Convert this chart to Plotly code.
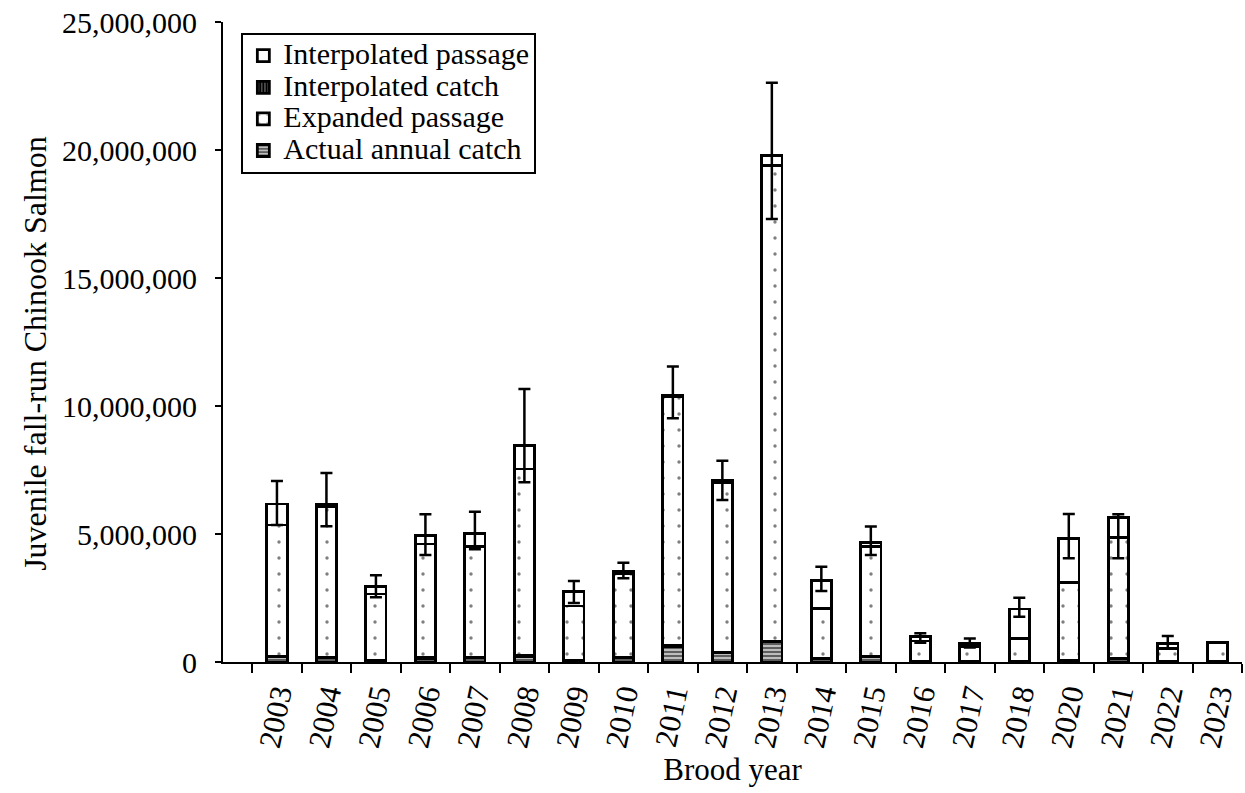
import plotly.graph_objects as go

years = ["2003", "2004", "2005", "2006", "2007", "2008", "2009", "2010", "2011", "2012",
         "2013", "2014", "2015", "2016", "2017", "2018", "2020", "2021", "2022", "2023"]

# segment values (millions of fish)
actual_catch = [0.20, 0.17, 0.03, 0.15, 0.17, 0.22, 0.03, 0.17, 0.62, 0.36,
                0.80, 0.12, 0.20, 0.02, 0.02, 0.02, 0.05, 0.12, 0.01, 0.01]
interp_catch = [0.03, 0.02, 0.05, 0.02, 0.02, 0.05, 0.02, 0.02, 0.02, 0.03,
                0.02, 0.03, 0.03, 0.01, 0.01, 0.01, 0.03, 0.02, 0.01, 0.00]
expanded_passage = [5.12, 5.89, 2.58, 4.44, 4.31, 7.27, 2.14, 3.26, 9.72, 6.61,
                    18.56, 1.95, 4.27, 0.79, 0.59, 0.89, 3.02, 4.71, 0.50, 0.76]
interp_passage = [0.82, 0.09, 0.28, 0.32, 0.53, 0.91, 0.56, 0.08, 0.07, 0.11,
                  0.42, 1.08, 0.16, 0.17, 0.11, 1.15, 1.73, 0.79, 0.21, 0.00]
err_plus = [0.90, 1.21, 0.45, 0.84, 0.84, 2.21, 0.41, 0.35, 1.11, 0.75,
            2.83, 0.54, 0.63, 0.13, 0.19, 0.44, 0.95, 0.13, 0.29, None]
err_minus = [0.82, 0.87, 0.41, 0.75, 0.63, 1.43, 0.45, 0.26, 0.91, 0.78,
             2.50, 0.41, 0.48, 0.24, 0.16, 0.30, 0.78, 1.59, 0.20, None]

M = 1e6
def scale(v):
    return [x * M for x in v]

FONT = "Times New Roman, Liberation Serif, serif"
LINE = dict(color="black", width=2.8)

def lab(t):
    return '<span style="font-size:30px">' + t + '</span>'

fig = go.Figure()
fig.add_trace(go.Bar(
    x=years, y=scale(actual_catch), name=lab("Actual annual catch"), legendrank=4,
    marker=dict(color="white", line=LINE,
                pattern=dict(shape="-", fgcolor="black", bgcolor="#bdbdbd", size=4, solidity=0.5))))
fig.add_trace(go.Bar(
    x=years, y=scale(interp_catch), name=lab("Interpolated catch"), legendrank=2,
    marker=dict(color="black", line=LINE,
                pattern=dict(shape="|", fgcolor="white", bgcolor="black", size=4, solidity=0.3))))
fig.add_trace(go.Bar(
    x=years, y=scale(expanded_passage), name=lab("Expanded passage"), legendrank=3,
    marker=dict(color="white", line=LINE,
                pattern=dict(shape=".", fgcolor="black", bgcolor="white", size=16, solidity=0.035))))
fig.add_trace(go.Bar(
    x=years, y=scale(interp_passage), name=lab("Interpolated passage"), legendrank=1,
    marker=dict(color="white", line=LINE)))

# error bars on totals
ex, ey, ep, em = [], [], [], []
for i, yr in enumerate(years):
    if err_plus[i] is None:
        continue
    tot = actual_catch[i] + interp_catch[i] + expanded_passage[i] + interp_passage[i]
    ex.append(yr)
    ey.append(tot * M)
    ep.append(err_plus[i] * M)
    em.append(err_minus[i] * M)

fig.add_trace(go.Scatter(
    x=ex, y=ey, mode="markers", showlegend=False, hoverinfo="skip",
    marker=dict(size=1, color="rgba(0,0,0,0)"),
    error_y=dict(type="data", symmetric=False, array=ep, arrayminus=em,
                 color="black", thickness=2.5, width=6)))

fig.update_layout(
    barmode="stack", bargap=0.59,
    width=1245, height=793,
    margin=dict(l=223, r=3, t=22, b=131),
    paper_bgcolor="white", plot_bgcolor="white",
    font=dict(family=FONT, color="black", size=30),
    showlegend=True,
    legend=dict(x=0.018, y=0.983, xanchor="left", yanchor="top",
                bordercolor="black", borderwidth=2, bgcolor="white",
                traceorder="normal", font=dict(family=FONT, size=22),
                itemwidth=30),
    xaxis=dict(type="category", categoryorder="array", categoryarray=years,
               showline=True, linecolor="black", linewidth=2,
               ticks="outside", tickson="boundaries", ticklen=9, tickwidth=2, tickcolor="black",
               tickangle=-78, tickfont=dict(family=FONT, size=31),
               title=dict(text="Brood year", font=dict(family=FONT, size=31), standoff=8),
               showgrid=False),
    yaxis=dict(range=[0, 25e6], dtick=5e6, tickformat=",d",
               showline=True, linecolor="black", linewidth=2,
               ticks="outside", ticklen=6, tickwidth=2, tickcolor="black",
               tickfont=dict(family=FONT, size=30), ticklabelstandoff=12,
               showgrid=False, zeroline=False),
    annotations=[dict(text="Juvenile fall-run Chinook Salmon", textangle=-90,
                      xref="paper", yref="paper", x=-0.1845, y=0.483,
                      xanchor="center", yanchor="middle", showarrow=False,
                      font=dict(family=FONT, size=32, color="black"))],
)

fig.write_html("out.html")
